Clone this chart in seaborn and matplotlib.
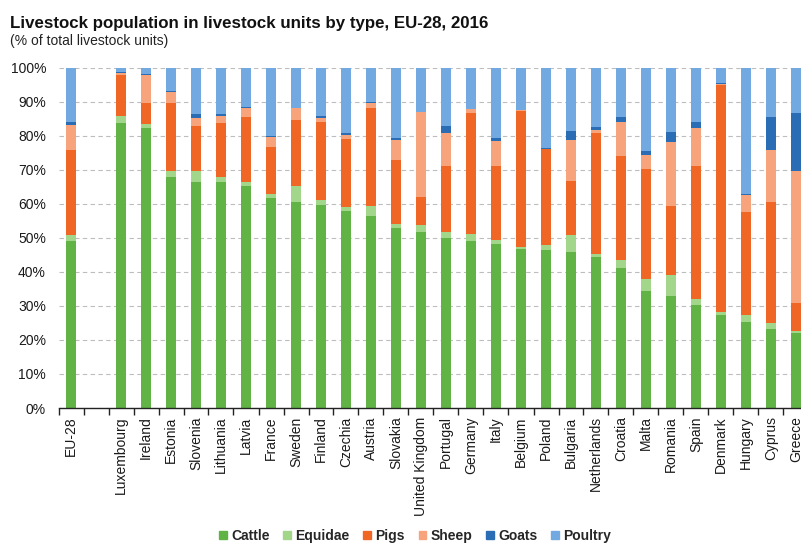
import numpy as np
import pandas as pd
import matplotlib
matplotlib.use("Agg")
import matplotlib.pyplot as plt
import matplotlib.patches as mpatches
import seaborn as sns

# data: share of total livestock units (%)
countries = ["EU-28", "Luxembourg", "Ireland", "Estonia", "Slovenia", "Lithuania",
             "Latvia", "France", "Sweden", "Finland", "Czechia", "Austria",
             "Slovakia", "United Kingdom", "Portugal", "Germany", "Italy", "Belgium",
             "Poland", "Bulgaria", "Netherlands", "Croatia", "Malta", "Romania",
             "Spain", "Denmark", "Hungary", "Cyprus", "Greece"]
cattle = [48.9, 83.8, 82.3, 67.7, 66.5, 66.5, 65.3, 61.6, 60.6, 59.6, 57.9, 56.3,
          52.9, 51.6, 50.0, 49.1, 48.2, 46.7, 46.3, 45.8, 44.2, 41.2, 34.4, 32.8,
          30.3, 27.3, 25.4, 23.3, 22.1]
equidae = [1.9, 2.1, 1.2, 1.9, 3.1, 1.2, 1.2, 1.3, 4.6, 1.5, 1.1, 3.0,
           1.0, 2.0, 1.6, 2.0, 1.2, 0.6, 1.6, 5.0, 1.1, 2.4, 3.4, 6.2,
           1.7, 0.9, 1.9, 1.8, 0.4]
pigs = [25.0, 12.0, 6.1, 20.0, 13.3, 16.1, 19.0, 13.7, 19.5, 23.0, 20.1, 28.9,
        18.8, 8.4, 19.6, 35.4, 21.8, 39.9, 28.2, 16.0, 35.4, 30.3, 32.5, 20.4,
        39.2, 66.8, 30.3, 35.5, 8.2]
sheep = [7.3, 0.5, 8.3, 3.1, 2.4, 2.1, 2.5, 3.0, 3.4, 1.1, 1.2, 1.3,
         6.1, 24.8, 9.7, 1.2, 7.3, 0.3, 0.1, 12.0, 0.9, 10.2, 3.9, 18.8,
         11.0, 0.3, 4.9, 15.2, 38.9]
goats = [1.0, 0.4, 0.1, 0.3, 1.0, 0.3, 0.3, 0.3, 0.1, 0.5, 0.4, 0.3,
         0.4, 0.1, 2.0, 0.1, 0.9, 0.1, 0.2, 2.5, 0.9, 1.4, 1.4, 2.8,
         1.9, 0.1, 0.4, 9.8, 17.0]
poultry = [15.9, 1.2, 2.0, 7.0, 13.7, 13.8, 11.7, 20.1, 11.8, 14.3, 19.3, 10.2,
           20.8, 13.1, 17.1, 12.2, 20.6, 12.4, 23.6, 18.7, 17.5, 14.5, 24.4, 19.0,
           15.9, 4.6, 37.1, 14.4, 13.4]

types = ["Cattle", "Equidae", "Pigs", "Sheep", "Goats", "Poultry"]
colors = ["#62b345", "#a2d68b", "#f06624", "#f7a47c", "#2a6db5", "#72a9e0"]

df = pd.DataFrame({"country": countries, "Cattle": cattle, "Equidae": equidae,
                   "Pigs": pigs, "Sheep": sheep, "Goats": goats, "Poultry": poultry})
# cumulative tops for stacking
cum = df[types].cumsum(axis=1)
cum["country"] = df["country"]

# empty slot after EU-28
order = ["EU-28", " "] + countries[1:]

sns.set_theme(style="white")
plt.rcParams["font.family"] = ["Liberation Sans", "DejaVu Sans"]

fig = plt.figure(figsize=(8.01, 5.43), dpi=100)
ax = fig.add_axes([58.5 / 801, 135 / 543, 750 / 801, 340.5 / 543])

# draw from the top layer down so each one covers the one above
for t, c in reversed(list(zip(types, colors))):
    sns.barplot(data=cum, x="country", y=t, order=order, color=c, saturation=1,
                width=0.4, linewidth=0, errorbar=None, ax=ax)

ax.set_xlim(-0.5, len(order) - 0.5)
ax.set_ylim(0, 100)
ax.set_yticks(np.arange(0, 101, 10))
ax.set_yticklabels([f"{v}%" for v in range(0, 101, 10)])
ax.set_xlabel("")
ax.set_ylabel("")

ax.yaxis.grid(True, linestyle=(0, (4, 3)), color="#bdbdbd", linewidth=0.8)
ax.set_axisbelow(True)
for s in ["left", "top", "right"]:
    ax.spines[s].set_visible(False)
ax.spines["bottom"].set_color("#222222")
ax.spines["bottom"].set_linewidth(1.0)

ax.set_xticks(np.arange(-0.5, len(order), 1), minor=True)
ax.tick_params(axis="x", which="minor", length=5, width=1, color="#222222",
               direction="out", bottom=True)
ax.tick_params(axis="x", which="major", length=0, pad=6, labelsize=10,
               labelrotation=90, colors="#1a1a1a")
ax.tick_params(axis="y", length=0, pad=9, labelsize=10, colors="#1a1a1a")
for lab in ax.get_xticklabels():
    lab.set_va("top")

fig.text(10 / 801, 1 - 28 / 543, "Livestock population in livestock units by type, EU-28, 2016",
         fontsize=12.2, fontweight="bold", color="#111111", va="baseline")
fig.text(10 / 801, 1 - 45 / 543, "(% of total livestock units)",
         fontsize=10, color="#222222", va="baseline")

handles = [mpatches.Patch(color=c, label=t) for t, c in zip(types, colors)]
fig.legend(handles=handles, loc="center", bbox_to_anchor=(415 / 801, 1 - 536 / 543),
           ncol=6, frameon=False, handlelength=0.55, handleheight=0.55,
           handletextpad=0.3, columnspacing=1.0,
           prop={"size": 10, "weight": "bold"})

fig.savefig("out.png", dpi=100)
